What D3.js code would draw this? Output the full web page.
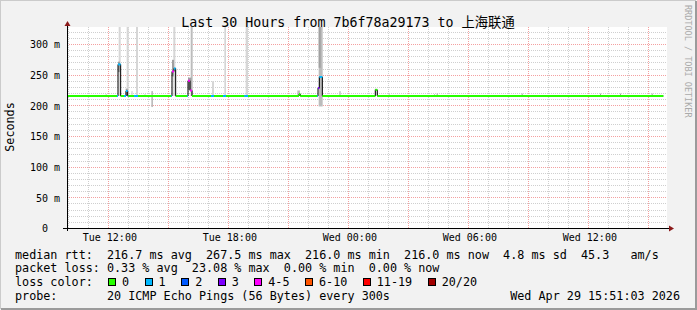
<!DOCTYPE html>
<html>
<head>
<meta charset="utf-8">
<script src="https://cdn.jsdelivr.net/npm/d3@7"></script>
<style>
body { margin: 0; background: #f2f2f2; }
text { font-family: "DejaVu Sans Mono", "Noto Sans CJK SC", monospace; white-space: pre; }
</style>
</head>
<body>
<div id="chart"></div>
<script>
var w = 697;
var h = 310;

// time range of the graph (UTC used as local clock)
var startTime = "2026-04-28 09:56";
var endTime = "2026-04-29 15:56";
var yMax = 327.7;
var yTicks = [0, 50, 100, 150, 200, 250, 300];

// median rtt (ms), one entry per change, holds until next entry; loss = lost pings of 20
var medTime = ["2026-04-28 09:56", "2026-04-28 12:26", "2026-04-28 12:29", "2026-04-28 12:37",
  "2026-04-28 12:47", "2026-04-28 12:53", "2026-04-28 12:58", "2026-04-28 13:00",
  "2026-04-28 13:17", "2026-04-28 13:29", "2026-04-28 15:09", "2026-04-28 15:11",
  "2026-04-28 15:17", "2026-04-28 15:22", "2026-04-28 15:57", "2026-04-28 15:59",
  "2026-04-28 16:05", "2026-04-28 16:11", "2026-04-28 17:08", "2026-04-28 17:17",
  "2026-04-28 17:44", "2026-04-28 17:53", "2026-04-28 18:48", "2026-04-28 18:59",
  "2026-04-28 21:32", "2026-04-28 21:36", "2026-04-28 22:27", "2026-04-28 22:29",
  "2026-04-28 22:33", "2026-04-28 22:42", "2026-04-29 01:21", "2026-04-29 01:27",
  "2026-04-29 15:45"];
var medRtt = [216, 216, 267.5, 216,
  216, 224, 216, 216,
  216, 216, 216, 256,
  261, 216, 216, 241,
  225, 216, 216, 216,
  216, 216, 216, 216,
  219, 216, 216, 229,
  247, 216, 226, 216,
  216];
var medLoss = [0, 1, 1, 0,
  1, 1, 1, 0,
  1, 0, 1, 4,
  1, 0, 1, 4,
  4, 0, 1, 0,
  1, 0, 1, 0,
  0, 0, 1, 3,
  1, 0, 0, 0,
  0];

// smoke (spread of the pings), shade 0 light .. 2 dark
var smokeStart = ["2026-04-28 11:52", "2026-04-28 12:31", "2026-04-28 12:29", "2026-04-28 12:55", "2026-04-28 12:52",
  "2026-04-28 13:09", "2026-04-28 13:23", "2026-04-28 13:48", "2026-04-28 14:09", "2026-04-28 15:15", "2026-04-28 15:11",
  "2026-04-28 16:07", "2026-04-28 15:59", "2026-04-28 17:11", "2026-04-28 17:48", "2026-04-28 18:52",
  "2026-04-28 21:27", "2026-04-28 22:31", "2026-04-28 22:31", "2026-04-28 23:33", "2026-04-29 01:19",
  "2026-04-29 02:01", "2026-04-29 04:17", "2026-04-29 04:25", "2026-04-29 08:40", "2026-04-29 12:35",
  "2026-04-29 13:35", "2026-04-29 15:10"];
var smokeEnd = ["2026-04-28 11:55", "2026-04-28 12:37", "2026-04-28 12:35", "2026-04-28 13:01", "2026-04-28 12:58",
  "2026-04-28 13:13", "2026-04-28 13:29", "2026-04-28 13:52", "2026-04-28 14:14", "2026-04-28 15:21", "2026-04-28 15:17",
  "2026-04-28 16:13", "2026-04-28 16:09", "2026-04-28 17:17", "2026-04-28 17:53", "2026-04-28 18:59",
  "2026-04-28 21:35", "2026-04-28 22:43", "2026-04-28 22:37", "2026-04-28 23:37", "2026-04-29 01:25",
  "2026-04-29 02:04", "2026-04-29 04:20", "2026-04-29 04:28", "2026-04-29 08:43", "2026-04-29 12:38",
  "2026-04-29 13:38", "2026-04-29 15:13"];
var smokeLo = [216, 216, 255, 216, 216,
  216, 216, 216, 198, 216, 248,
  216, 226, 216, 216, 216,
  216, 199, 262, 216, 216,
  216, 216, 216, 216, 216,
  216, 216];
var smokeHi = [219, 330, 272, 330, 228,
  224, 330, 219, 224, 330, 275,
  330, 246, 240, 330, 330,
  225, 330, 330, 224, 228,
  219, 219, 220, 220, 220,
  220, 220];
var smokeShade = [1, 0, 2, 0, 2,
  0, 0, 0, 1, 0, 2,
  1, 2, 0, 0, 0,
  1, 1, 2, 1, 0,
  1, 1, 2, 2, 2,
  2, 2];

var lossLabels = ["0", "1", "2", "3", "4-5", "6-10", "11-19", "20/20"];
var lossUpper = [0, 1, 2, 3, 5, 10, 19, 20];
var lossColors = ["#26ff00", "#00b8ff", "#0059ff", "#7e00ff", "#ff00ff", "#ff5500", "#ff0000", "#a10000"];

var rttStats = ["216.7 ms avg", "267.5 ms max", "216.0 ms min", "216.0 ms now", "4.8 ms sd", "45.3   am/s"];
var lossStats = ["0.33 % avg", "23.08 % max", "0.00 % min", "0.00 % now"];
var probeText = "20 ICMP Echo Pings (56 Bytes) every 300s";
var stampText = "Wed Apr 29 15:51:03 2026";
var titleText = "Last 30 Hours from 7b6f78a29173 to 上海联通";

var parse = d3.utcParse("%Y-%m-%d %H:%M");
var t0 = parse(startTime), t1 = parse(endTime);

var pLeft = 67, pRight = 667, pTop = 27, pBottom = 228;

var x = d3.scaleUtc().domain([t0, t1]).range([pLeft, pRight]);
var y = d3.scaleLinear().domain([0, yMax]).range([pBottom + 0.5, pTop + 0.5]);

var svg = d3.select("#chart").append("svg")
  .attr("width", w).attr("height", h);

// background and frame
svg.append("rect").attr("width", w).attr("height", h).attr("fill", "#f2f2f2");
svg.append("path").attr("d", "M0,309V0H696").attr("fill", "none").attr("stroke", "#cbcbcb").attr("stroke-width", 2);
svg.append("path").attr("d", "M1,309H696V1").attr("fill", "none").attr("stroke", "#9b9b9b").attr("stroke-width", 2);

svg.append("rect").attr("x", pLeft).attr("y", pTop).attr("width", pRight - pLeft).attr("height", pBottom - pTop)
  .attr("fill", "#ffffff");

svg.append("clipPath").attr("id", "plot")
  .append("rect").attr("x", pLeft).attr("y", pTop).attr("width", pRight - pLeft + 1).attr("height", pBottom - pTop + 1);

// grid
var grid = svg.append("g").attr("shape-rendering", "crispEdges");
var hours = d3.utcHour.range(d3.utcHour.ceil(t0), t1);
hours.forEach(function(d) {
  var major = d.getUTCHours() % 3 == 0;
  var px = Math.round(x(d)) + 0.5;
  grid.append("line").attr("x1", px).attr("x2", px).attr("y1", pTop).attr("y2", pBottom)
    .attr("stroke", major ? "#f4a0a0" : "#cfcfcf").attr("stroke-dasharray", "1,1");
});
d3.range(10, yMax, 10).forEach(function(v) {
  var major = v % 50 == 0;
  var py = Math.round(y(v) - 0.5) + 0.5;
  grid.append("line").attr("x1", pLeft).attr("x2", pRight).attr("y1", py).attr("y2", py)
    .attr("stroke", major ? "#f4a0a0" : "#cfcfcf").attr("stroke-dasharray", "1,1");
});

// smoke
var shades = ["#d6d6d6", "#bcbcbc", "#a0a0a0"];
var smoke = smokeStart.map(function(s, i) {
  return { a: parse(s), b: parse(smokeEnd[i]), lo: smokeLo[i], hi: smokeHi[i], shade: smokeShade[i] };
});
svg.append("g").attr("clip-path", "url(#plot)")
  .selectAll("rect").data(smoke).enter().append("rect")
  .attr("x", function(d) { return x(d.a); })
  .attr("width", function(d) { return x(d.b) - x(d.a); })
  .attr("y", function(d) { return y(d.hi); })
  .attr("height", function(d) { return y(d.lo) - y(d.hi); })
  .attr("fill", function(d) { return shades[d.shade]; });

// median line
var med = medTime.map(function(s, i) { return { t: parse(s), v: medRtt[i], loss: medLoss[i] }; });
function lossColor(n) {
  for (var i = 0; i < lossUpper.length; i++) if (n <= lossUpper[i]) return lossColors[i];
  return lossColors[lossColors.length - 1];
}
var line = d3.line().curve(d3.curveStepAfter)
  .x(function(d) { return x(d.t); })
  .y(function(d) { return y(d.v); });
svg.append("path").datum(med).attr("d", line)
  .attr("fill", "none").attr("stroke", "#000").attr("stroke-width", 1);

svg.append("g").selectAll("line").data(med.slice(0, -1)).enter().append("line")
  .attr("x1", function(d) { return x(d.t); })
  .attr("x2", function(d, i) { return x(med[i + 1].t); })
  .attr("y1", function(d) { return y(d.v); })
  .attr("y2", function(d) { return y(d.v); })
  .attr("stroke", function(d) { return lossColor(d.loss); })
  .attr("stroke-width", 2);

// axes
var axes = svg.append("g").attr("shape-rendering", "crispEdges");
axes.append("line").attr("x1", pLeft + 0.5).attr("x2", pLeft + 0.5).attr("y1", pBottom + 3).attr("y2", pTop - 1)
  .attr("stroke", "#000");
axes.append("line").attr("x1", pLeft - 4).attr("x2", pRight + 2).attr("y1", pBottom + 0.5).attr("y2", pBottom + 0.5)
  .attr("stroke", "#000");
svg.append("path").attr("d", "M" + (pLeft + 0.5) + "," + (pTop - 6) + "l3,5h-6z").attr("fill", "#8b1a1a");
svg.append("path").attr("d", "M" + (pRight + 7) + "," + (pBottom + 0.5) + "l-5,-3v6z").attr("fill", "#8b1a1a");

// y labels
var yAxis = d3.axisLeft(y).tickValues(yTicks).tickSize(0).tickPadding(0)
  .tickFormat(function(v) { return v == 0 ? "0  " : v + " m"; });
var ya = svg.append("g").attr("transform", "translate(60,0)").call(yAxis);
ya.select(".domain").remove();
ya.selectAll("text").attr("font-size", "10px").attr("fill", "#000")
  .style("font-family", "'DejaVu Sans Mono', monospace");

// x labels
var xAxis = d3.axisBottom(x).ticks(d3.utcHour.every(6)).tickSize(0).tickPadding(0)
  .tickFormat(d3.utcFormat("%a %H:%M"));
var xa = svg.append("g").attr("transform", "translate(1," + (pBottom + 6) + ")").call(xAxis);
xa.select(".domain").remove();
xa.selectAll("text").attr("font-size", "10px").attr("fill", "#000")
  .style("font-family", "'DejaVu Sans Mono', monospace");

// title and side texts
svg.append("text").attr("x", 348).attr("y", 26.5).attr("text-anchor", "middle")
  .attr("font-size", "13.3px").text(titleText);
svg.append("text").attr("transform", "translate(14,127) rotate(-90)").attr("text-anchor", "middle")
  .attr("font-size", "11.75px").text("Seconds");
svg.append("text").attr("transform", "translate(685,5) rotate(90)")
  .attr("font-size", "8.5px").attr("fill", "#aaaaaa").text("RRDTOOL / TOBI OETIKER");

// legend
var fs = "11.75px";
var lx = 15;
var rows = [258.7, 272.4, 286.2, 300];
svg.append("text").attr("x", lx).attr("y", rows[0]).attr("font-size", fs)
  .text("median rtt:  " + rttStats.join("  "));
svg.append("text").attr("x", lx).attr("y", rows[1]).attr("font-size", fs)
  .text("packet loss: " + lossStats.join("  "));
var lc = svg.append("text").attr("x", lx).attr("y", rows[2]).attr("font-size", fs).text("loss color:");
var cw = lc.node().getComputedTextLength() / 11;
svg.append("text").attr("x", lx).attr("y", rows[3]).attr("font-size", fs)
  .text("probe:       " + probeText);
svg.append("text").attr("x", 680).attr("y", rows[3]).attr("font-size", fs).attr("text-anchor", "end")
  .text(stampText);

var cx = lx + 13 * cw + 1;
lossLabels.forEach(function(lab, i) {
  svg.append("rect").attr("x", Math.round(cx) + 0.5).attr("y", 278.5).attr("width", 7).attr("height", 7)
    .attr("fill", lossColors[i]).attr("stroke", "#000");
  svg.append("text").attr("x", cx + 14).attr("y", rows[2]).attr("font-size", fs).text(lab);
  cx = cx + 14 + lab.length * cw + 15.5;
});
</script>
</body>
</html>
